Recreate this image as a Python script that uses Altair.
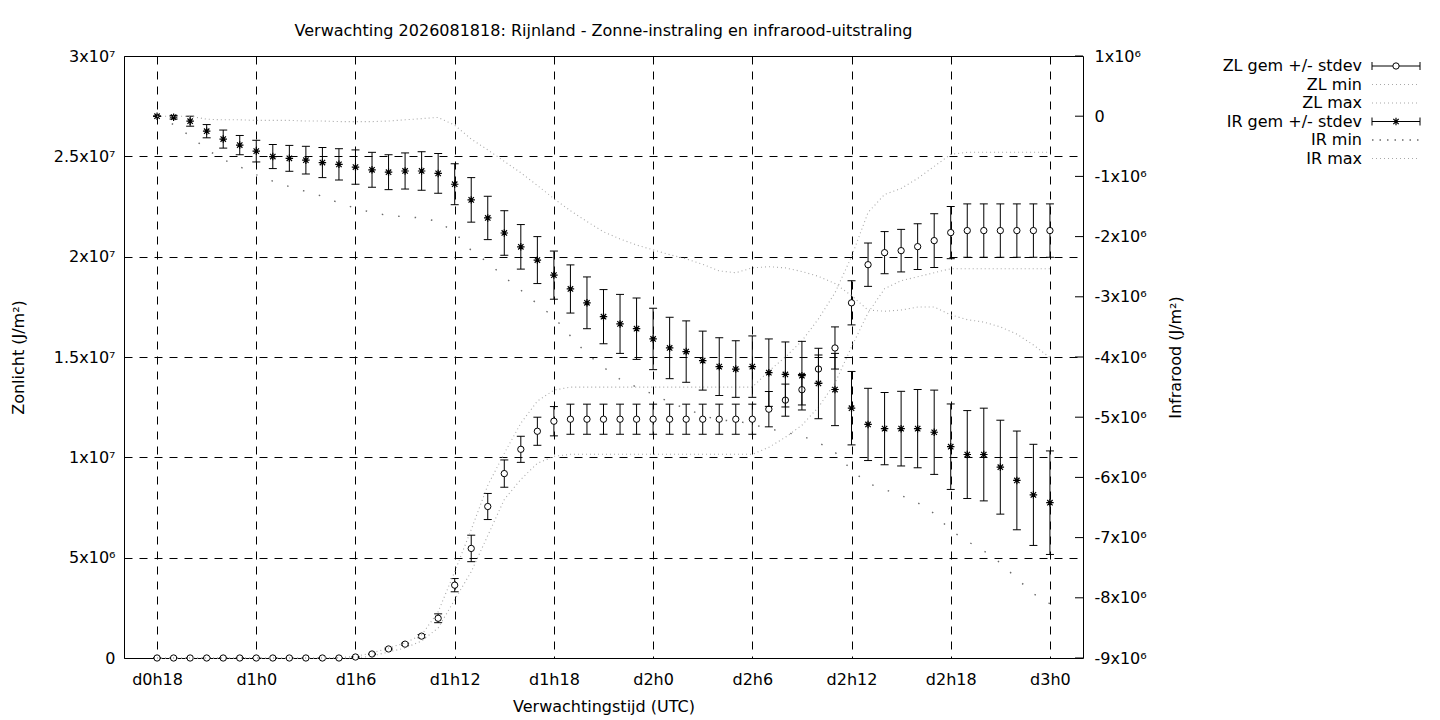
import altair as alt
import pandas as pd

FONT = "DejaVu Sans"
FS = 16
M = 1_000_000

# forecast hours since d0h0
hours = list(range(18, 73))

# Zonlicht (J/m2, in units of 1e6)
zl_gem = [0, 0, 0, 0, 0, 0, 0, 0, 0, 0, 0, 0,
          0.05, 0.2, 0.45, 0.69, 1.09, 1.98, 3.63, 5.46, 7.55, 9.19, 10.4, 11.3, 11.8,
          11.9, 11.9, 11.9, 11.9, 11.9, 11.9, 11.9, 11.9, 11.9, 11.9, 11.9, 11.9,
          12.4, 12.85, 13.37, 14.4, 15.45, 17.7, 19.6, 20.2, 20.3, 20.5, 20.8, 21.2,
          21.3, 21.3, 21.3, 21.3, 21.3, 21.3]
zl_sd = [0, 0, 0, 0, 0, 0, 0, 0, 0, 0, 0, 0,
         0.01, 0.03, 0.04, 0.05, 0.08, 0.22, 0.33, 0.66, 0.65, 0.68, 0.65, 0.7, 0.73,
         0.75, 0.75, 0.75, 0.75, 0.75, 0.75, 0.75, 0.75, 0.75, 0.75, 0.75, 0.75,
         0.88, 0.8, 0.76, 0.7, 1.05, 1.1, 1.08, 1.05, 1.06, 1.14, 1.34, 1.3,
         1.33, 1.33, 1.33, 1.33, 1.33, 1.33]
zl_min = [0, 0, 0, 0, 0, 0, 0, 0, 0, 0, 0, 0, 0,
          0.1, 0.3, 0.5, 0.85, 1.5, 2.9, 4.3, 6.1, 7.9, 8.9, 9.7, 10.05,
          10.15, 10.15, 10.15, 10.15, 10.15, 10.15, 10.15, 10.15, 10.15, 10.15, 10.15, 10.15,
          10.5, 11.0, 11.6, 12.5, 13.7, 15.5, 17.2, 18.4, 18.8, 19.0, 19.2, 19.4,
          19.4, 19.4, 19.4, 19.4, 19.4, 19.4]
zl_max = [0, 0, 0, 0, 0, 0, 0, 0, 0, 0, 0,
          0.02, 0.08, 0.25, 0.5, 0.75, 1.15, 2.3, 4.3, 6.4, 8.6, 10.2, 11.7, 12.8, 13.35,
          13.5, 13.5, 13.5, 13.5, 13.5, 13.5, 13.5, 13.5, 13.5, 13.5, 13.5, 13.5,
          14.3, 15.0, 15.8, 16.9, 18.2, 20.0, 22.2, 23.1, 23.4, 23.9, 24.5, 25.1,
          25.2, 25.2, 25.2, 25.2, 25.2, 25.2]

# Infrarood (J/m2, in units of 1e6)
ir_gem = [0.0, -0.017, -0.083, -0.249, -0.38, -0.48, -0.58, -0.67, -0.70, -0.73,
          -0.77, -0.80, -0.845, -0.89, -0.93, -0.91, -0.91, -0.95, -1.13, -1.39,
          -1.69, -1.94, -2.17, -2.39, -2.64, -2.87, -3.10, -3.33, -3.45, -3.53,
          -3.70, -3.85, -3.91, -4.06, -4.16, -4.20, -4.16, -4.26, -4.29, -4.31,
          -4.44, -4.54, -4.85, -5.12, -5.19, -5.19, -5.19, -5.25, -5.49, -5.62,
          -5.62, -5.83, -6.05, -6.29, -6.42]
ir_sd = [0.0, 0.03, 0.083, 0.11, 0.15, 0.16, 0.18, 0.2, 0.215, 0.23,
         0.25, 0.26, 0.285, 0.29, 0.29, 0.3, 0.32, 0.33, 0.34, 0.37,
         0.36, 0.37, 0.37, 0.39, 0.40, 0.40, 0.43, 0.45, 0.49, 0.51,
         0.51, 0.51, 0.51, 0.49, 0.48, 0.47, 0.51, 0.56, 0.54, 0.57,
         0.585, 0.6, 0.61, 0.6, 0.6, 0.62, 0.65, 0.70, 0.71, 0.73,
         0.77, 0.78, 0.82, 0.84, 0.86]
ir_min = [0.0, -0.14, -0.33, -0.55, -0.72, -0.84, -0.97, -1.08, -1.17, -1.25,
          -1.33, -1.44, -1.53, -1.60, -1.65, -1.67, -1.69, -1.75, -1.93, -2.23,
          -2.43, -2.67, -2.89, -3.12, -3.34, -3.65, -3.95, -4.17, -4.37, -4.50,
          -4.62, -4.75, -4.86, -4.97, -5.05, -5.06, -5.12, -5.19, -5.25, -5.31,
          -5.42, -5.58, -5.88, -6.10, -6.20, -6.30, -6.42, -6.60, -6.88, -7.06,
          -7.22, -7.42, -7.68, -7.93, -8.10]
ir_max = [0.0, 0.0, 0.0, -0.05, -0.06, -0.06, -0.07, -0.07, -0.07, -0.08,
          -0.08, -0.09, -0.09, -0.09, -0.08, -0.06, -0.04, -0.02, -0.15, -0.38,
          -0.56, -0.75, -0.94, -1.15, -1.37, -1.57, -1.75, -1.92, -2.04, -2.14,
          -2.22, -2.30, -2.37, -2.46, -2.57, -2.60, -2.52, -2.50, -2.52, -2.58,
          -2.66, -2.78, -2.98, -3.22, -3.24, -3.22, -3.17, -3.17, -3.30, -3.38,
          -3.42, -3.50, -3.62, -3.80, -4.01]

# axis ticks
x_tick_values = [18, 24, 30, 36, 42, 48, 54, 60, 66, 72]
x_tick_labels = ["d0h18", "d1h0", "d1h6", "d1h12", "d1h18", "d2h0", "d2h6", "d2h12", "d2h18", "d3h0"]
zl_tick_values = [0, 5000000, 10000000, 15000000, 20000000, 25000000, 30000000]
zl_tick_labels = ["0", "5x10⁶", "1x10⁷", "1.5x10⁷", "2x10⁷", "2.5x10⁷", "3x10⁷"]
ir_tick_values = [1000000, 0, -1000000, -2000000, -3000000, -4000000, -5000000,
                  -6000000, -7000000, -8000000, -9000000]
ir_tick_labels = ["1x10⁶", "0", "-1x10⁶", "-2x10⁶", "-3x10⁶", "-4x10⁶", "-5x10⁶",
                  "-6x10⁶", "-7x10⁶", "-8x10⁶", "-9x10⁶"]

legend_labels = ["ZL gem +/- stdev", "ZL min", "ZL max", "IR gem +/- stdev", "IR min", "IR max"]
title_text = "Verwachting 2026081818: Rijnland - Zonne-instraling en infrarood-uitstraling"


def label_expr(values, labels):
    expr = "''"
    for v, l in reversed(list(zip(values, labels))):
        expr = "(abs(datum.value - (" + str(v) + ")) < 0.5 ? '" + l + "' : " + expr + ")"
    return expr


df = pd.DataFrame({
    "uur": hours,
    "zl_gem": [v * M for v in zl_gem],
    "zl_lo": [(a - b) * M for a, b in zip(zl_gem, zl_sd)],
    "zl_hi": [(a + b) * M for a, b in zip(zl_gem, zl_sd)],
    "zl_min": [v * M for v in zl_min],
    "zl_max": [v * M for v in zl_max],
    "ir_gem": [v * M for v in ir_gem],
    "ir_lo": [(a - b) * M for a, b in zip(ir_gem, ir_sd)],
    "ir_hi": [(a + b) * M for a, b in zip(ir_gem, ir_sd)],
    "ir_min": [v * M for v in ir_min],
    "ir_max": [v * M for v in ir_max],
})

W, H = 959, 602
LIGHT = "#a8a8a8"
SPARSE = "#6a6a6a"
CIRCLE_SIZE = 40

STYLE = dict(
    ticks=False, domain=False,
    labelFont=FONT, labelFontSize=FS, labelColor="black",
    titleFont=FONT, titleFontSize=FS, titleFontWeight="normal", titleColor="black",
)

x_scale = alt.Scale(domain=[16, 74], nice=False, zero=False)
x_axis = alt.Axis(values=x_tick_values, labelExpr=label_expr(x_tick_values, x_tick_labels),
                  title="Verwachtingstijd (UTC)", grid=True, gridDash=[8, 7],
                  gridColor="black", gridOpacity=1, labelPadding=13,
                  titleY=48, titleBaseline="middle", **STYLE)

zl_scale = alt.Scale(domain=[0, 30000000], nice=False, zero=False)
zl_axis = alt.Axis(orient="left", values=zl_tick_values,
                   labelExpr=label_expr(zl_tick_values, zl_tick_labels),
                   title="Zonlicht (J/m²)", grid=True, gridDash=[8, 7],
                   gridColor="black", gridOpacity=1, labelPadding=9,
                   titleX=-106, titleY=H / 2, titleAngle=270, titleBaseline="middle",
                   titleAlign="center", **STYLE)

ir_scale = alt.Scale(domain=[-9000000, 1000000], nice=False, zero=False)
ir_axis = alt.Axis(orient="right", values=ir_tick_values,
                   labelExpr=label_expr(ir_tick_values, ir_tick_labels),
                   title="Infrarood (J/m²)", grid=False, labelPadding=11,
                   titleX=92, titleY=H / 2, titleAngle=270, titleBaseline="middle",
                   titleAlign="center", **STYLE)


def X():
    return alt.X("uur:Q", scale=x_scale, axis=x_axis)


def YZ(field):
    return alt.Y(field, type="quantitative", scale=zl_scale, axis=zl_axis)


def YI(field):
    return alt.Y(field, type="quantitative", scale=ir_scale, axis=ir_axis)


base = alt.Chart(df)

# ---- Zonlicht layer (left axis)
zl_bar = base.mark_rule(color="black", strokeWidth=1).encode(x=X(), y=YZ("zl_lo"), y2="zl_hi:Q")
zl_cap_lo = base.mark_tick(orient="horizontal", size=8, thickness=1, color="black", opacity=1).encode(
    x=X(), y=YZ("zl_lo"))
zl_cap_hi = base.mark_tick(orient="horizontal", size=8, thickness=1, color="black", opacity=1).encode(
    x=X(), y=YZ("zl_hi"))
zl_pts = base.mark_point(shape="circle", filled=True, fill="white", stroke="black",
                         strokeWidth=1, size=CIRCLE_SIZE, opacity=1).encode(x=X(), y=YZ("zl_gem"))
zl_min_line = base.mark_line(color=LIGHT, strokeDash=[1, 3], strokeWidth=1.1).encode(
    x=X(), y=YZ("zl_min"))
zl_max_line = base.mark_line(color=LIGHT, strokeDash=[1, 3], strokeWidth=1.1).encode(
    x=X(), y=YZ("zl_max"))
zl_layer = alt.layer(zl_bar, zl_cap_lo, zl_cap_hi, zl_pts, zl_min_line, zl_max_line)

# ---- Infrarood layer (right axis)
ASTERISK = "M-1,0L1,0M0,-1L0,1M-0.72,-0.72L0.72,0.72M-0.72,0.72L0.72,-0.72"
ir_tick_df = pd.DataFrame({"v": ir_tick_values})
ir_bar = base.mark_rule(color="black", strokeWidth=1).encode(x=X(), y=YI("ir_lo"), y2="ir_hi:Q")
ir_cap_lo = base.mark_tick(orient="horizontal", size=8, thickness=1, color="black", opacity=1).encode(
    x=X(), y=YI("ir_lo"))
ir_cap_hi = base.mark_tick(orient="horizontal", size=8, thickness=1, color="black", opacity=1).encode(
    x=X(), y=YI("ir_hi"))
ir_pts = base.mark_point(shape=ASTERISK, filled=False, stroke="black", strokeWidth=1.2,
                         size=56, opacity=1).encode(x=X(), y=YI("ir_gem"))
ir_min_line = base.mark_line(color=SPARSE, strokeDash=[1.5, 15], strokeWidth=1.4).encode(
    x=X(), y=YI("ir_min"))
ir_max_line = base.mark_line(color=LIGHT, strokeDash=[1, 3], strokeWidth=1.1).encode(
    x=X(), y=YI("ir_max"))
ir_ticks = alt.Chart(ir_tick_df).mark_rule(color="black", strokeWidth=1).encode(
    y=YI("v"), x=alt.value(W - 8), x2=alt.value(W))
ir_layer = alt.layer(ir_bar, ir_cap_lo, ir_cap_hi, ir_pts, ir_min_line, ir_max_line, ir_ticks)

# ---- Legend (gnuplot style: text right-aligned, sample on the right)
leg_df = pd.DataFrame({"label": legend_labels, "row": list(range(len(legend_labels)))})
LY = alt.Y("row:Q", scale=alt.Scale(domain=[0, 5], range=[10, 102.5]), axis=None)
TX, S0, S1, SM = 1238, 1248, 1296, 1272
leg = alt.Chart(leg_df)
leg_text = leg.mark_text(align="right", baseline="middle", font=FONT, fontSize=FS, color="black").encode(
    x=alt.value(TX), y=LY, text="label:N")
err_rows = alt.FieldOneOfPredicate(field="label", oneOf=[legend_labels[0], legend_labels[3]])
light_rows = alt.FieldOneOfPredicate(field="label", oneOf=[legend_labels[1], legend_labels[2], legend_labels[5]])
leg_bar = leg.transform_filter(err_rows).mark_rule(color="black", strokeWidth=1).encode(
    x=alt.value(S0), x2=alt.value(S1), y=LY)
leg_cap0 = leg.transform_filter(err_rows).mark_tick(orient="vertical", size=8, thickness=1,
                                                     color="black", opacity=1).encode(x=alt.value(S0), y=LY)
leg_cap1 = leg.transform_filter(err_rows).mark_tick(orient="vertical", size=8, thickness=1,
                                                     color="black", opacity=1).encode(x=alt.value(S1), y=LY)
leg_circ = leg.transform_filter(alt.datum.label == legend_labels[0]).mark_point(
    shape="circle", filled=True, fill="white", stroke="black", strokeWidth=1, size=CIRCLE_SIZE,
    opacity=1).encode(x=alt.value(SM), y=LY)
leg_ast = leg.transform_filter(alt.datum.label == legend_labels[3]).mark_point(
    shape=ASTERISK, filled=False, stroke="black", strokeWidth=1.2, size=56, opacity=1).encode(
    x=alt.value(SM), y=LY)
leg_light = leg.transform_filter(light_rows).mark_rule(color=LIGHT, strokeDash=[1, 3], strokeWidth=1.1).encode(
    x=alt.value(S0), x2=alt.value(S1), y=LY)
leg_sparse = leg.transform_filter(alt.datum.label == legend_labels[4]).mark_rule(
    color=SPARSE, strokeDash=[1.5, 6], strokeWidth=1.4).encode(
    x=alt.value(S0), x2=alt.value(S1), y=LY)
legend_layer = alt.layer(leg_text, leg_bar, leg_cap0, leg_cap1, leg_circ, leg_ast, leg_light, leg_sparse)

chart = alt.layer(zl_layer, ir_layer, legend_layer).resolve_scale(y="independent").properties(
    width=W, height=H,
    title=alt.TitleParams(text=title_text, font=FONT, fontSize=FS, fontWeight="normal",
                          color="black", anchor="middle", offset=9),
    autosize=alt.AutoSizeParams(type="none"),
    padding={"left": 116, "top": 48, "right": 339, "bottom": 58},
).configure(font=FONT).configure_view(stroke="black", strokeWidth=1)

chart.save("out.html", embed_options={"renderer": "svg", "actions": False})
